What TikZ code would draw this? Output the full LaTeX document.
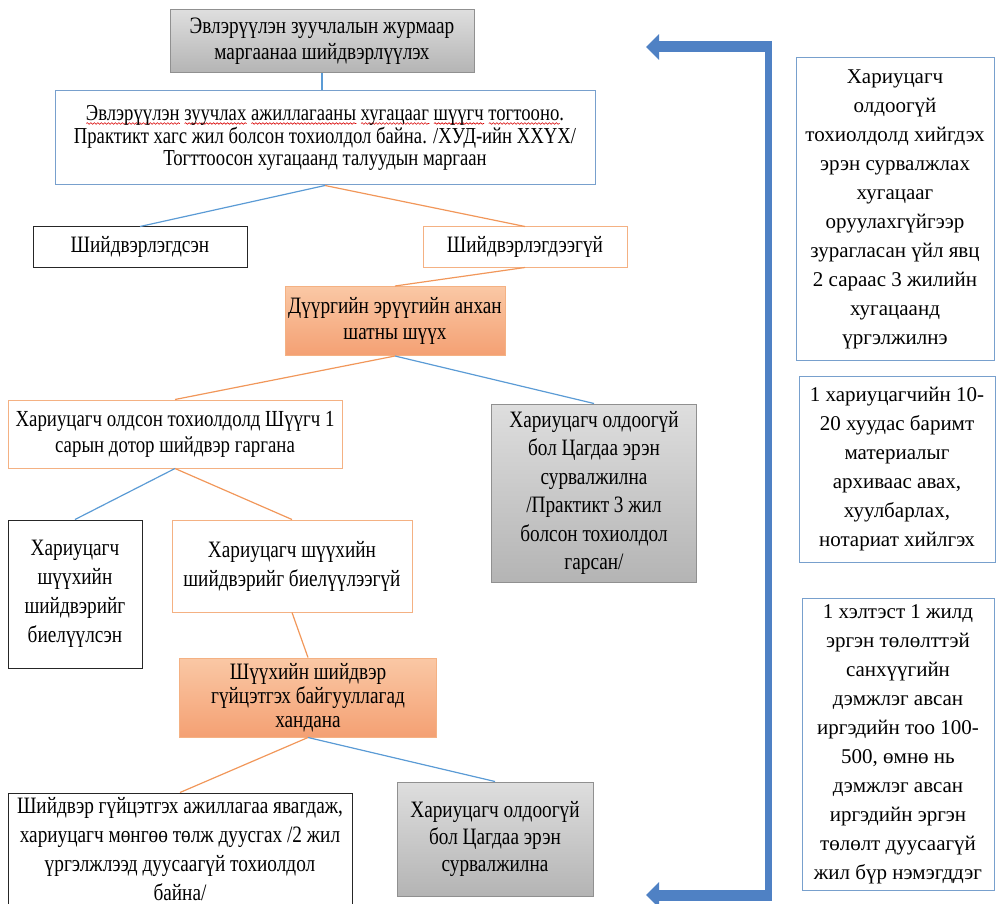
\documentclass[tikz,border=0pt]{standalone}
\usepackage{fontspec}
\setmainfont{Liberation Serif}
\newfontfamily\cond{Liberation Serif}[FakeStretch=0.82]
\usetikzlibrary{arrows.meta,decorations.pathmorphing}
\definecolor{lnblue}{RGB}{91,155,213}
\definecolor{lnorange}{RGB}{237,125,49}
\definecolor{bdblue}{RGB}{120,160,205}
\definecolor{bdorange}{RGB}{244,177,131}
\definecolor{orA}{RGB}{250,200,165}
\definecolor{orB}{RGB}{244,160,115}
\definecolor{grA}{RGB}{222,222,222}
\definecolor{grB}{RGB}{180,180,180}
\definecolor{arrblue}{RGB}{79,129,196}
\newsavebox\wbox
\newcommand{\redwave}[1]{\sbox\wbox{#1}\leavevmode\rlap{\raisebox{-4pt}{\tikz[x=1pt,y=1pt]\draw[red!85!black,line width=0.6pt,decorate,decoration={snake,amplitude=0.8pt,segment length=3.5pt}] (0pt,0pt)--(\the\wd\wbox,0pt);}}\usebox\wbox}
\tikzset{
  box/.style={inner sep=0pt, align=center, line width=1pt, font=\cond\fontsize{23.5}{26}\selectfont},
  bluebox/.style={box, draw=bdblue, fill=white},
  blackbox/.style={box, draw=black!85, fill=white},
  orbox/.style={box, draw=bdorange, fill=white},
  orfill/.style={box, draw=bdorange, top color=orA, bottom color=orB},
  grfill/.style={box, draw=grB!80!black, top color=grA, bottom color=grB},
  sidebox/.style={box, draw=bdblue, fill=white, font=\rmfamily\fontsize{21}{29}\selectfont},
  bl/.style={draw=lnblue, line width=1.2pt},
  ol/.style={draw=lnorange!80, line width=1.2pt},
  bigarrow/.style={draw=arrblue, line width=11pt, -{Triangle[width=25pt,length=13pt]}},
}
\begin{document}
\begin{tikzpicture}[x=1pt,y=-1pt]
\useasboundingbox (0,0) rectangle (996,904);
\begin{scope}
\clip (0,0) rectangle (996,904);
% left column
\node[grfill, minimum width=304, minimum height=63] (top) at (322,41.5) {Эвлэрүүлэн зуучлалын журмаар\\маргаанаа шийдвэрлүүлэх};
\node[bluebox, minimum width=540, minimum height=94, font=\cond\fontsize{22.8}{22.5}\selectfont] (big) at (325,138) {\redwave{Эвлэрүүлэн} \redwave{зуучлах} \redwave{ажиллагааны} \redwave{хугацааг} \redwave{шүүгч} \redwave{тогтооно}.\\Практикт хагс жил болсон тохиолдол байна. /ХУД-ийн ХХҮХ/\\Тогттоосон хугацаанд талуудын маргаан};
\node[blackbox, minimum width=214, minimum height=40] (shd) at (140,247) {Шийдвэрлэгдсэн};
\node[orbox, minimum width=204, minimum height=40] (shdg) at (525,247) {Шийдвэрлэгдээгүй};
\node[orfill, minimum width=220, minimum height=69] (duu) at (395,321) {Дүүргийн эрүүгийн анхан\\шатны шүүх};
\node[orbox, minimum width=334, minimum height=68, font=\cond\fontsize{23}{26}\selectfont] (ol) at (175,434) {Хариуцагч олдсон тохиолдолд Шүүгч 1\\сарын дотор шийдвэр гаргана};
\node[grfill, minimum width=205, minimum height=178, font=\cond\fontsize{23.5}{28.5}\selectfont] (gr1) at (594,493) {Хариуцагч олдоогүй\\бол Цагдаа эрэн\\сурвалжилна\\/Практикт 3 жил\\болсон тохиолдол\\гарсан/};
\node[blackbox, minimum width=134, minimum height=148, font=\cond\fontsize{23.5}{29}\selectfont] (biel) at (75,594) {Хариуцагч\\шүүхийн\\шийдвэрийг\\биелүүлсэн};
\node[orbox, minimum width=240, minimum height=92, font=\cond\fontsize{23.5}{29}\selectfont] (bielg) at (292,566) {Хариуцагч шүүхийн\\шийдвэрийг биелүүлээгүй};
\node[orfill, minimum width=257, minimum height=79, font=\cond\fontsize{23.5}{24}\selectfont] (guits) at (308,697.5) {Шүүхийн шийдвэр\\гүйцэтгэх байгууллагад\\хандана};
\node[blackbox, minimum width=344, minimum height=112, font=\cond\fontsize{23.5}{29}\selectfont] (shg) at (180,849) {Шийдвэр гүйцэтгэх ажиллагаа явагдаж,\\хариуцагч мөнгөө төлж дуусгах /2 жил\\үргэлжлээд дуусаагүй тохиолдол\\байна/};
\node[grfill, minimum width=196, minimum height=114, font=\cond\fontsize{23.5}{27}\selectfont] (gr2) at (495,839) {Хариуцагч олдоогүй\\бол Цагдаа эрэн\\сурвалжилна};
% connectors
\draw[bl] (top.south) -- (top.south |- big.north);
\draw[bl] (big.south) -- (shd.north);
\draw[ol] (big.south) -- (shdg.north);
\draw[ol] (shdg.south) -- (duu.north);
\draw[ol] (duu.south) -- (ol.north);
\draw[bl] (duu.south) -- (gr1.north);
\draw[bl] (ol.south) -- (biel.north);
\draw[ol] (ol.south) -- (bielg.north);
\draw[ol] (bielg.south) -- (guits.north);
\draw[ol] (guits.south) -- (shg.north);
\draw[bl] (guits.south) -- (gr2.north);
% right column
\node[sidebox, minimum width=198, minimum height=302] (s1) at (895,209) {Хариуцагч\\олдоогүй\\тохиолдолд хийгдэх\\эрэн сурвалжлах\\хугацааг\\оруулахгүйгээр\\зурагласан үйл явц\\2 сараас 3 жилийн\\хугацаанд\\үргэлжилнэ};
\node[sidebox, minimum width=196, minimum height=186] (s2) at (897,469) {1 хариуцагчийн 10-\\20 хуудас баримт\\материалыг\\архиваас авах,\\хуулбарлах,\\нотариат хийлгэх};
\node[sidebox, minimum width=192, minimum height=292] (s3) at (898,744) {1 хэлтэст 1 жилд\\эргэн төлөлттэй\\санхүүгийн\\дэмжлэг авсан\\иргэдийн тоо 100-\\500, өмнө нь\\дэмжлэг авсан\\иргэдийн эргэн\\төлөлт дуусаагүй\\жил бүр нэмэгддэг};
% bracket
\coordinate (bt) at (768,47);
\coordinate (bb) at (768,895);
\coordinate (tt) at (646,47);
\coordinate (tb) at (646,895);
\draw[draw=arrblue, line width=7pt] ([yshift=6pt]bt) -- ([yshift=-6pt]bb);
\draw[bigarrow] ([xshift=3.5pt]bt) -- (tt);
\draw[bigarrow] ([xshift=3.5pt]bb) -- (tb);
\end{scope}
\end{tikzpicture}
\end{document}
